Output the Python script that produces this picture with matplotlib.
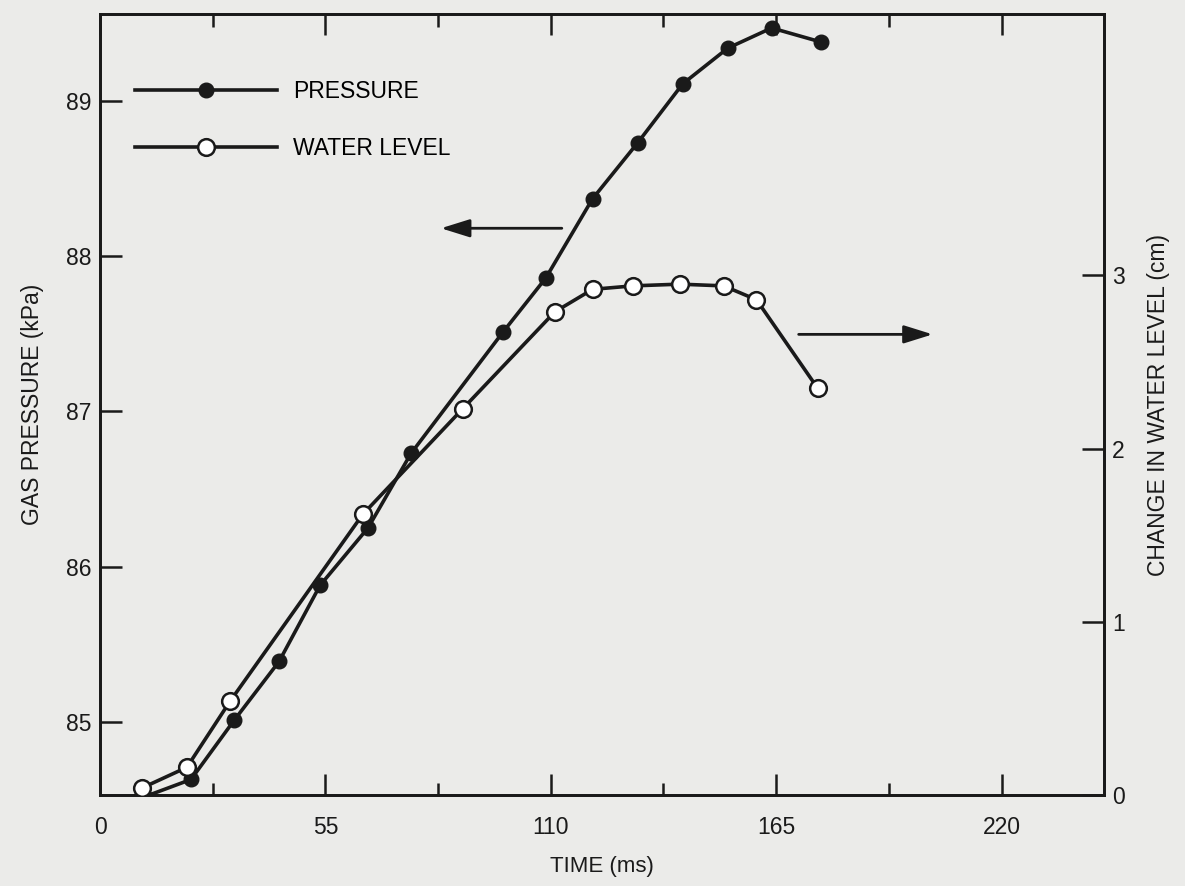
import numpy as np
import matplotlib
matplotlib.use("Agg")
import matplotlib.pyplot as plt
from matplotlib.ticker import MultipleLocator

plt.rcParams["font.family"] = ["Liberation Sans", "DejaVu Sans"]

# values
time_p = [11.0, 22.2, 32.7, 43.7, 53.7, 65.4, 75.9, 98.3, 108.8, 120.2,
          131.2, 142.2, 153.2, 163.9, 175.9]
pressure = [84.52, 84.63, 85.01, 85.39, 85.88, 86.25, 86.73, 87.51, 87.86,
            88.37, 88.73, 89.11, 89.34, 89.47, 89.38]

time_w = [10.2, 21.2, 31.7, 64.1, 88.5, 111.0, 120.2, 130.0, 141.5, 152.2,
          160.2, 175.1]
water = [0.04, 0.16, 0.54, 1.62, 2.23, 2.79, 2.92, 2.94, 2.95, 2.94,
         2.86, 2.35]

x_ticks = [0, 55, 110, 165, 220]
p_ticks = [85, 86, 87, 88, 89]
w_ticks = [0, 1, 2, 3]

bg = "#ebebe9"
ink = "#1a1a1a"

fig = plt.figure(figsize=(11.85, 8.86), dpi=100, facecolor=bg)
ax = fig.add_axes([0.0844, 0.1027, 0.8472, 0.8815], facecolor=bg)
ax2 = ax.twinx()

p_line, = ax.plot(time_p, pressure, color=ink, lw=2.6, marker="o", ms=10.5,
                  mfc=ink, mec=ink, label="PRESSURE", zorder=3)
w_line, = ax2.plot(time_w, water, color=ink, lw=2.6, marker="o", ms=12,
                   mfc="white", mec=ink, mew=1.8, label="WATER LEVEL", zorder=3)

ax.set_xlim(0, 245)
ax.set_ylim(84.53, 89.56)
ax2.set_ylim(0, 4.51)

ax.set_xticks(x_ticks)
ax.xaxis.set_minor_locator(MultipleLocator(27.5))
ax.set_yticks(p_ticks)
ax2.set_yticks(w_ticks)

ax.tick_params(axis="x", which="major", direction="in", length=15, width=1.8,
               top=True, labelsize=16.5, pad=15, colors=ink)
ax.tick_params(axis="x", which="minor", direction="in", length=9, width=1.8,
               top=True, colors=ink)
ax.tick_params(axis="y", direction="in", length=16, width=1.8,
               labelsize=16.5, pad=6, colors=ink)
ax2.tick_params(axis="y", direction="in", length=16, width=1.8,
                labelsize=16.5, pad=6, colors=ink)

for a in (ax, ax2):
    for s in a.spines.values():
        s.set_linewidth(2)
        s.set_color(ink)

ax.set_xlabel("TIME (ms)", fontsize=16, labelpad=12, color=ink)
ax.set_ylabel("GAS PRESSURE (kPa)", fontsize=16.5, labelpad=16, color=ink)
ax2.set_ylabel("CHANGE IN WATER LEVEL (cm)", fontsize=16.5, labelpad=16,
               color=ink)

# arrows pointing to the axis each curve belongs to
ax.annotate("", xy=(83.2, 88.18), xytext=(112.7, 88.18),
            arrowprops=dict(arrowstyle="-|>,head_length=0.8,head_width=0.25",
                            lw=2, color=ink, mutation_scale=22,
                            shrinkA=0, shrinkB=0))
ax2.annotate("", xy=(203.2, 2.66), xytext=(170.5, 2.66),
             arrowprops=dict(arrowstyle="-|>,head_length=0.8,head_width=0.25",
                             lw=2, color=ink, mutation_scale=22,
                             shrinkA=0, shrinkB=0))

ax.legend(handles=[p_line, w_line], loc="upper left",
          bbox_to_anchor=(0.035, 0.916), frameon=False, fontsize=16.5,
          handlelength=6.2, handletextpad=0.7, labelspacing=1.5,
          borderpad=0, borderaxespad=0, numpoints=1)

fig.savefig("out.png", dpi=100, facecolor=bg)
